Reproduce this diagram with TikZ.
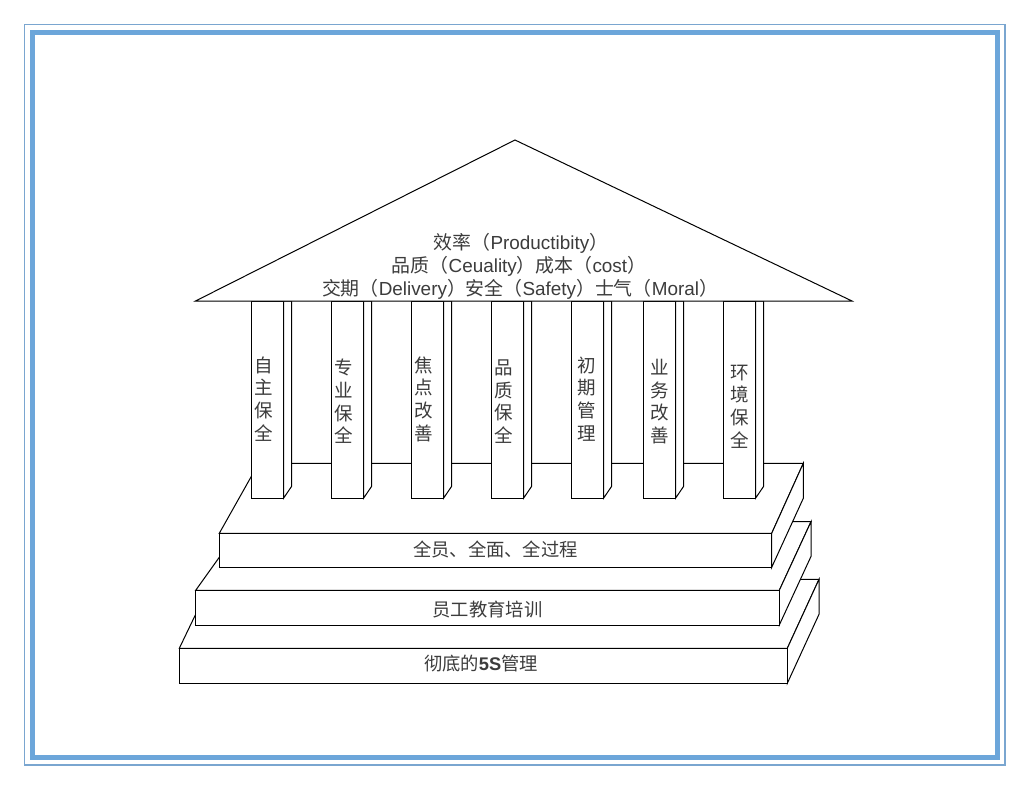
\documentclass[tikz,border=0pt]{standalone}
\usepackage{fontspec}
\setmainfont{Liberation Sans}
\newfontfamily\cjk{Noto Sans CJK SC}
\definecolor{frameblue}{RGB}{108,166,218}
\definecolor{framethin}{RGB}{122,166,208}
\definecolor{txt}{RGB}{60,60,60}
\begin{document}
\begin{tikzpicture}[x=1pt,y=-1pt,
  edge/.style={draw=black,line width=1pt,fill=white,line join=miter},
  roofline/.style={font=\fontsize{18.9}{22}\selectfont,text=txt,inner sep=0pt},
  colchar/.style={font=\cjk\fontsize{18.5}{22.7}\selectfont,text=txt,align=center,inner sep=0pt},
  slabtext/.style={font=\cjk\fontsize{18.3}{22}\selectfont,text=txt,inner sep=0pt}]
\useasboundingbox (0,0) rectangle (1030,790);
\fill[white] (0,0) rectangle (1030,790);
% frame
\draw[framethin,line width=1.6pt] (24.5,24.5) rectangle (1005,765);
\draw[frameblue,line width=5pt] (32.5,32.5) rectangle (997.5,757.5);
% bottom slab
\path[edge] (179.3,648.3) -- (787.3,648.3) -- (819,579.3) -- (212.5,579.3) -- cycle;
\path[edge] (787.3,648.3) -- (819,579.3) -- (819,614.3) -- (787.3,683.3) -- cycle;
\path[edge] (179.3,648.3) rectangle (787.3,683.3);
% middle slab
\path[edge] (195.7,590.3) -- (779.3,590.3) -- (811,521.7) -- (244.7,521.7) -- cycle;
\path[edge] (779.3,590.3) -- (811,521.7) -- (811,556.4) -- (779.3,625) -- cycle;
\path[edge] (195.7,590.3) rectangle (779.3,625);
% top slab
\path[edge] (219.3,533.3) -- (771.7,533.3) -- (803.3,463.3) -- (258.7,463.3) -- cycle;
\path[edge] (771.7,533.3) -- (803.3,463.3) -- (803.3,498.3) -- (771.7,567.3) -- cycle;
\path[edge] (219.3,533.3) rectangle (771.7,567.3);
% slab texts
\node[slabtext] (s1) at (495.5,549) {全员、全面、全过程};
\node[slabtext] (s2) at (487.5,609.5) {员工教育培训};
\node[slabtext] (s3) at (481,664) {彻底的{\fontspec{Liberation Sans}\bfseries 5S}管理};
% pillars
\foreach \x/\tx/\ty/\t [count=\i] in {251.5/263.5/399/{自\\主\\保\\全},331.5/343.5/401.5/{专\\业\\保\\全},411.5/423.5/399/{焦\\点\\改\\善},491.5/503.5/401.5/{品\\质\\保\\全},571.5/586.5/399/{初\\期\\管\\理},643.5/660/401.5/{业\\务\\改\\善},723.5/740/406.5/{环\\境\\保\\全}}{
  \path[edge] (\x+32,301) -- (\x+40,301) -- (\x+40,486.5) -- (\x+32,498.3) -- cycle;
  \path[edge] (\x,301) rectangle (\x+32,498.3);
  \node[colchar] (p\i) at (\tx,\ty) {\t};
}
% roof
\path[edge] (195.5,301) -- (515,140) -- (852,301) -- cycle;
\node[roofline] (r1) at (521,243.5) {{\cjk 效率（}Productibity{\cjk ）}};
\node[roofline] (r2) at (519,266.5) {{\cjk 品质（}Ceuality{\cjk ）成本（}cost{\cjk ）}};
\node[roofline] (r3) at (520,289) {{\cjk 交期（}Delivery{\cjk ）安全（}Safety{\cjk ）士气（}Moral{\cjk ）}};
\end{tikzpicture}
\end{document}
